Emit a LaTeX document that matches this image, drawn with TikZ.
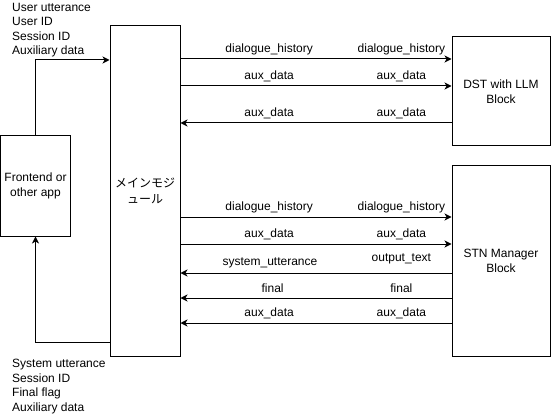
\documentclass[tikz,border=0pt]{standalone}
\usepackage{fontspec}
\setmainfont{Liberation Sans}
\newfontfamily\jpfont{Noto Sans CJK JP}
\usepackage{tikz}
\usetikzlibrary{arrows.meta, positioning}

\begin{document}
\begin{tikzpicture}[
    x=1pt, y=-1pt,
    every node/.style={font=\fontsize{12}{14.5}\selectfont},
    box/.style={rectangle, draw, line width=1pt, inner sep=0pt, align=center},
    arrow/.style={-{Stealth[length=7pt, width=7pt, inset=2pt]}, line width=1pt},
    lbl/.style={inner sep=0pt, yshift=10pt},
    msg/.style={anchor=north west, align=left, inner sep=0pt}
]
\useasboundingbox (0,0) rectangle (551,414);

% Blocks
\node[box, minimum width=70, minimum height=100] (front) at (35.5,186) {Frontend or\\other app};
\node[box, minimum width=70, minimum height=330, font=\jpfont\fontsize{12}{16}\selectfont] (main) at (145,191) {メインモジ\\ュール};
\node[box, minimum width=98, minimum height=109] (dst) at (501,91.5) {DST with LLM\\Block};
\node[box, minimum width=98, minimum height=190] (stn) at (501,261) {STN Manager\\Block};

% Frontend <-> main module
\node[msg] (request) at (12,3) {User utterance\\User ID\\Session ID\\Auxiliary data};
\node[msg] (response) at (12,359) {System utterance\\Session ID\\Final flag\\Auxiliary data};
\draw[arrow] (front.north) |- (main.west |- 0,60);
\draw[arrow] (main.west |- 0,342) -| (front.south);

% Main module <-> DST
\draw[arrow] (main.east |- 0,59) -- node[lbl, pos=0.327] {dialogue\_history} node[lbl, pos=0.815] {dialogue\_history} (dst.west |- 0,59);
\draw[arrow] (main.east |- 0,86) -- node[lbl, pos=0.327] {aux\_data} node[lbl, pos=0.815] {aux\_data} (dst.west |- 0,86);
\draw[arrow] (dst.west |- 0,123) -- node[lbl, pos=0.185] {aux\_data} node[lbl, pos=0.673] {aux\_data} (main.east |- 0,123);

% Main module <-> STN manager
\draw[arrow] (main.east |- 0,217) -- node[lbl, pos=0.327] {dialogue\_history} node[lbl, pos=0.815] {dialogue\_history} (stn.west |- 0,217);
\draw[arrow] (main.east |- 0,244) -- node[lbl, pos=0.327] {aux\_data} node[lbl, pos=0.815] {aux\_data} (stn.west |- 0,244);
\draw[arrow] (stn.west |- 0,273) -- node[lbl, pos=0.185, yshift=4pt] {output\_text} node[lbl, pos=0.67] {system\_utterance} (main.east |- 0,273);
\draw[arrow] (stn.west |- 0,298) -- node[lbl, pos=0.185] {final} node[lbl, pos=0.66] {final} (main.east |- 0,298);
\draw[arrow] (stn.west |- 0,323) -- node[lbl, pos=0.185] {aux\_data} node[lbl, pos=0.673] {aux\_data} (main.east |- 0,323);
\end{tikzpicture}
\end{document}
